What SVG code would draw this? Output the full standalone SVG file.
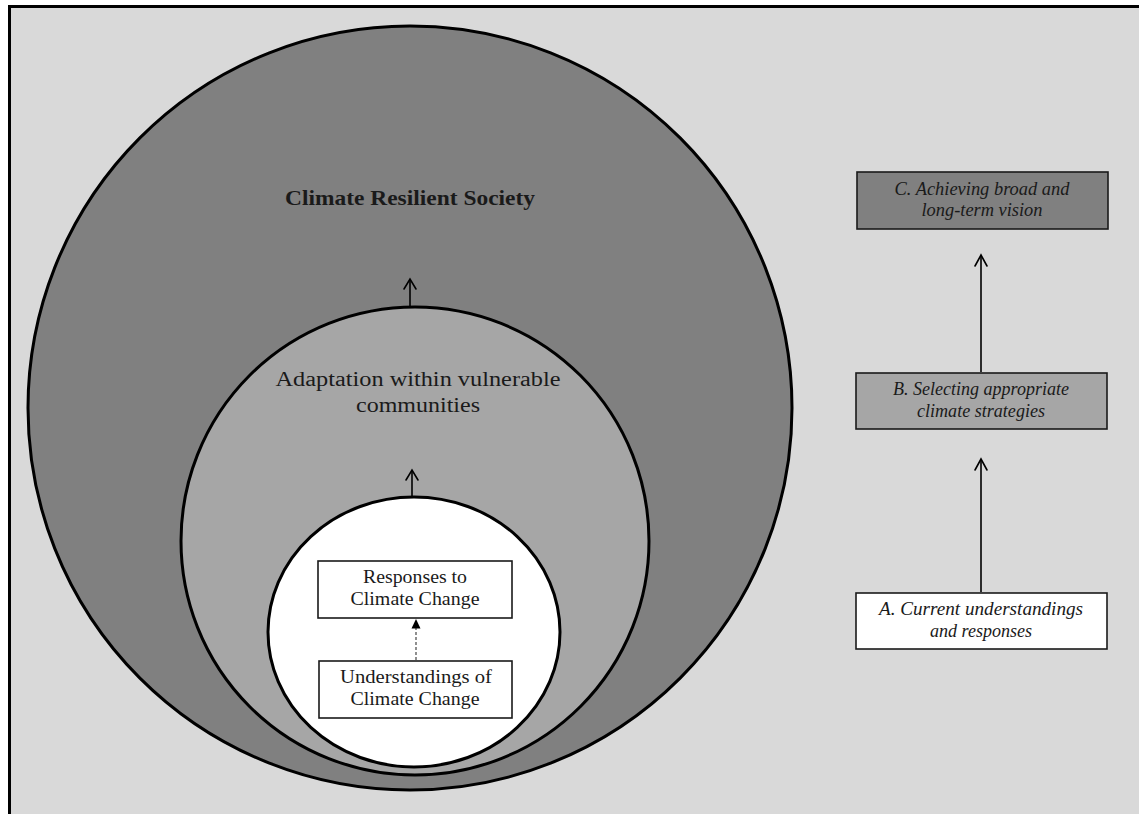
<svg xmlns="http://www.w3.org/2000/svg" width="1139" height="814" viewBox="0 0 1139 814">
  <defs>
    <style>
      .ring { stroke: #000; stroke-width: 3; }
      .box { stroke: #1a1a1a; stroke-width: 1.6; }
      .lbl { font-family: "Liberation Serif", "DejaVu Serif", serif; fill: #1a1a1a; text-anchor: middle; }
      .it { font-style: italic; font-size: 18px; }
      .link { stroke: #000; stroke-width: 1.6; fill: none; }
      .chev { stroke: #000; stroke-width: 1.6; fill: none; stroke-linecap: round; stroke-linejoin: miter; }
    </style>
  </defs>

  <!-- page and frame -->
  <rect x="0" y="0" width="1139" height="814" fill="#ffffff"/>
  <rect x="9.5" y="6.5" width="1140" height="820" fill="#d9d9d9" stroke="#000" stroke-width="3"/>

  <!-- nested circles -->
  <g id="society">
    <circle class="ring" cx="410" cy="408" r="382" fill="#808080"/>
    <text class="lbl" x="410" y="205" font-size="21" font-weight="bold" textLength="250" lengthAdjust="spacingAndGlyphs">Climate Resilient Society</text>
  </g>
  <g id="adaptation">
    <circle class="ring" cx="415" cy="541" r="234" fill="#a6a6a6"/>
    <text class="lbl" x="418" y="386" font-size="20" textLength="285" lengthAdjust="spacingAndGlyphs">Adaptation within vulnerable</text>
    <text class="lbl" x="418" y="412" font-size="20" textLength="124" lengthAdjust="spacingAndGlyphs">communities</text>
  </g>
  <g id="core">
    <ellipse class="ring" cx="414" cy="632" rx="146" ry="135" fill="#ffffff"/>
  </g>
  <g id="responses">
    <rect class="box" x="318" y="561" width="194" height="57" fill="#ffffff"/>
    <text class="lbl" x="415" y="583" font-size="18" textLength="104" lengthAdjust="spacingAndGlyphs">Responses to</text>
    <text class="lbl" x="415" y="605" font-size="18" textLength="129" lengthAdjust="spacingAndGlyphs">Climate Change</text>
  </g>
  <g id="understandings">
    <rect class="box" x="319" y="661" width="193" height="57" fill="#ffffff"/>
    <text class="lbl" x="416" y="683" font-size="18" textLength="152" lengthAdjust="spacingAndGlyphs">Understandings of</text>
    <text class="lbl" x="415" y="705" font-size="18" textLength="129" lengthAdjust="spacingAndGlyphs">Climate Change</text>
  </g>

  <!-- stage boxes -->
  <g id="stage-c">
    <rect class="box" x="857" y="172" width="251" height="57" fill="#808080"/>
    <text class="lbl it" x="982" y="195" textLength="175" lengthAdjust="spacingAndGlyphs">C. Achieving broad and</text>
    <text class="lbl it" x="982" y="216" textLength="121" lengthAdjust="spacingAndGlyphs">long-term vision</text>
  </g>
  <g id="stage-b">
    <rect class="box" x="856" y="373" width="251" height="56" fill="#a6a6a6"/>
    <text class="lbl it" x="981" y="395" textLength="176" lengthAdjust="spacingAndGlyphs">B. Selecting appropriate</text>
    <text class="lbl it" x="981" y="417" textLength="128" lengthAdjust="spacingAndGlyphs">climate strategies</text>
  </g>
  <g id="stage-a">
    <rect class="box" x="856" y="593" width="251" height="56" fill="#ffffff"/>
    <text class="lbl it" x="981" y="615" textLength="204" lengthAdjust="spacingAndGlyphs">A. Current understandings</text>
    <text class="lbl it" x="981" y="637" textLength="102" lengthAdjust="spacingAndGlyphs">and responses</text>
  </g>

  <!-- connectors -->
  <g id="connectors">
    <!-- adaptation to society -->
    <line class="link" x1="410" y1="306" x2="410" y2="279"/>
    <polyline class="chev" points="404,289 410,279 416,289"/>
    <!-- core to adaptation -->
    <line class="link" x1="412" y1="496" x2="412" y2="470"/>
    <polyline class="chev" points="406,480 412,470 418,480"/>
    <!-- understandings to responses -->
    <line x1="416" y1="660" x2="416" y2="628" stroke="#555" stroke-width="1.3" stroke-dasharray="3,2"/>
    <polygon points="416,619 411.5,628.5 420.5,628.5" fill="#000"/>
    <!-- B to C -->
    <line class="link" x1="981" y1="372" x2="981" y2="255"/>
    <polyline class="chev" points="975,266 981,255 987,266"/>
    <!-- A to B -->
    <line class="link" x1="981" y1="592" x2="981" y2="459"/>
    <polyline class="chev" points="975,470 981,459 987,470"/>
  </g>
</svg>
